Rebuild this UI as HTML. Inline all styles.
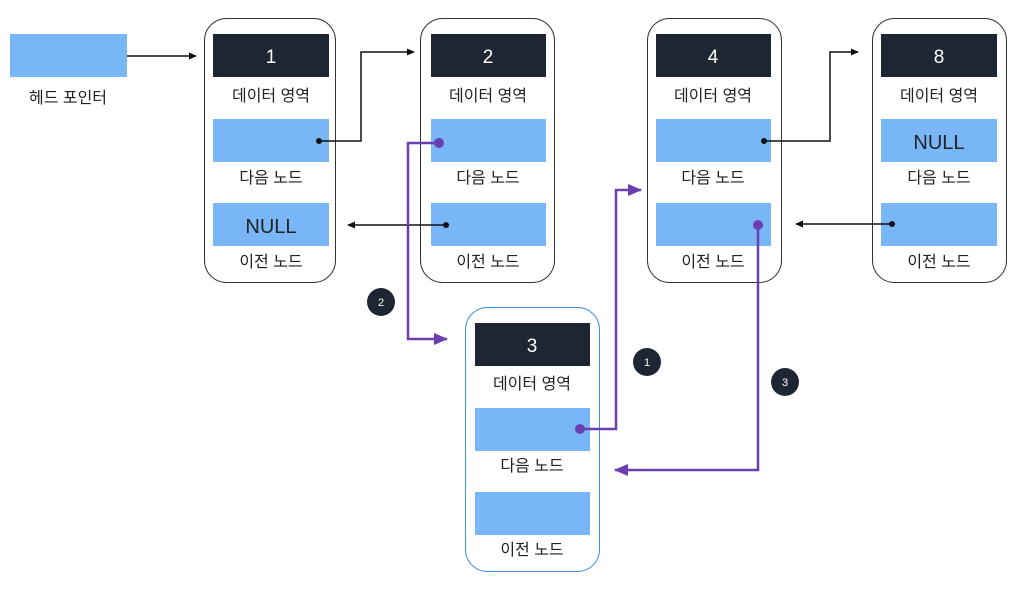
<!DOCTYPE html>
<html><head><meta charset="utf-8"><style>
body{margin:0;background:#fff;width:1029px;height:587px;overflow:hidden;font-family:"Liberation Sans","Noto Sans CJK KR",sans-serif}
</style></head><body>
<svg width="1029" height="587" xmlns="http://www.w3.org/2000/svg" font-family="'Liberation Sans','Noto Sans CJK KR',sans-serif">
<defs>
<marker id="ab" markerWidth="8" markerHeight="8" refX="7" refY="4" orient="auto" markerUnits="userSpaceOnUse"><path d="M0,0.5 L8,4 L0,7.5z" fill="#111"/></marker>
<marker id="ap" markerWidth="14" markerHeight="12" refX="13" refY="6" orient="auto" markerUnits="userSpaceOnUse"><path d="M0,0 L14,6 L0,12z" fill="#6a3fb0"/></marker>
</defs>
<rect x="10" y="34" width="117" height="43" fill="#79b6f7"/>
<text x="68" y="103" font-size="16" text-anchor="middle" fill="#222">헤드 포인터</text>
<g font-size="16" fill="#222" text-anchor="middle">
<!-- node 1 -->
<rect x="204.5" y="18.5" width="131" height="264" rx="22" fill="none" stroke="#333"/>
<rect x="213" y="34" width="116" height="43" fill="#1f2633"/><text x="271" y="63" fill="#fff" font-size="19">1</text>
<text x="271" y="101">데이터 영역</text>
<rect x="213" y="119" width="116" height="43" fill="#79b6f7"/>
<text x="271" y="183">다음 노드</text>
<rect x="213" y="203" width="116" height="43" fill="#79b6f7"/><text x="271" y="233" font-size="20">NULL</text>
<text x="271" y="267">이전 노드</text>
<!-- node 2 -->
<rect x="420.5" y="18.5" width="134" height="264" rx="22" fill="none" stroke="#333"/>
<rect x="431" y="34" width="115" height="43" fill="#1f2633"/><text x="488" y="63" fill="#fff" font-size="19">2</text>
<text x="488" y="101">데이터 영역</text>
<rect x="431" y="119" width="115" height="43" fill="#79b6f7"/>
<text x="488" y="183">다음 노드</text>
<rect x="431" y="203" width="115" height="43" fill="#79b6f7"/>
<text x="488" y="267">이전 노드</text>
<!-- node 4 -->
<rect x="647.5" y="18.5" width="134" height="264" rx="22" fill="none" stroke="#333"/>
<rect x="656" y="34" width="115" height="43" fill="#1f2633"/><text x="713" y="63" fill="#fff" font-size="19">4</text>
<text x="713" y="101">데이터 영역</text>
<rect x="656" y="119" width="115" height="43" fill="#79b6f7"/>
<text x="713" y="183">다음 노드</text>
<rect x="656" y="203" width="115" height="43" fill="#79b6f7"/>
<text x="713" y="267">이전 노드</text>
<!-- node 8 -->
<rect x="872.5" y="18.5" width="134" height="264" rx="22" fill="none" stroke="#333"/>
<rect x="881" y="34" width="116" height="43" fill="#1f2633"/><text x="939" y="63" fill="#fff" font-size="19">8</text>
<text x="939" y="101">데이터 영역</text>
<rect x="881" y="119" width="116" height="43" fill="#79b6f7"/><text x="939" y="149" font-size="20">NULL</text>
<text x="939" y="183">다음 노드</text>
<rect x="881" y="203" width="116" height="43" fill="#79b6f7"/>
<text x="939" y="267">이전 노드</text>
<!-- node 3 -->
<rect x="465.5" y="307.5" width="134" height="264" rx="22" fill="none" stroke="#3d8fe0"/>
<rect x="475" y="323" width="115" height="43" fill="#1f2633"/><text x="532" y="352" fill="#fff" font-size="19">3</text>
<text x="532" y="389">데이터 영역</text>
<rect x="475" y="408" width="115" height="43" fill="#79b6f7"/>
<text x="532" y="471">다음 노드</text>
<rect x="475" y="492" width="115" height="43" fill="#79b6f7"/>
<text x="532" y="555">이전 노드</text>
</g>
<!-- black arrows -->
<g fill="none" stroke="#111" stroke-width="1.5">
<path d="M127,56 H196" marker-end="url(#ab)"/>
<path d="M319,141 H361 V52 H414" marker-end="url(#ab)"/>
<path d="M446,225 H348" marker-end="url(#ab)"/>
<path d="M764,141 H830 V52 H858" marker-end="url(#ab)"/>
<path d="M892,224 H796" marker-end="url(#ab)"/>
</g>
<g fill="#111"><circle cx="319" cy="141" r="3"/><circle cx="446" cy="225" r="3"/><circle cx="764" cy="141" r="3"/><circle cx="892" cy="224" r="3"/></g>
<!-- purple arrows -->
<g fill="none" stroke="#6a3fb0" stroke-width="2.5">
<path d="M439,143 H408 V339 H447" marker-end="url(#ap)"/>
<path d="M580,429 H616 V190 H641" marker-end="url(#ap)"/>
<path d="M758,225 V470 H615" marker-end="url(#ap)"/>
</g>
<g fill="#6a3fb0"><circle cx="439" cy="143" r="5"/><circle cx="580" cy="429" r="5"/><circle cx="758" cy="225" r="5"/></g>
<!-- badges -->
<g font-size="11" fill="#fff" text-anchor="middle">
<circle cx="381" cy="302" r="14" fill="#1f2633"/><text x="381" y="306">2</text>
<circle cx="647" cy="362" r="14" fill="#1f2633"/><text x="647" y="366">1</text>
<circle cx="785" cy="382" r="14" fill="#1f2633"/><text x="785" y="386">3</text>
</g>
</svg>
</body></html>
